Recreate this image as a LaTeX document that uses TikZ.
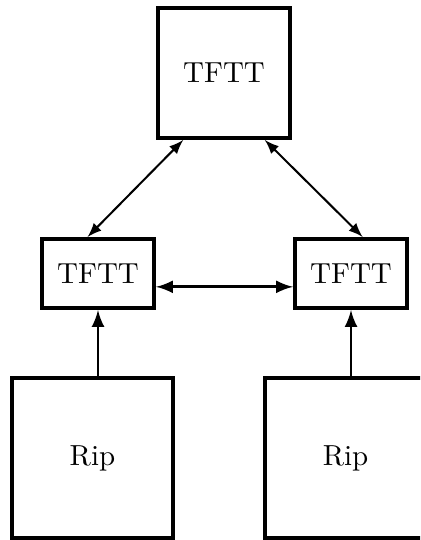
\documentclass[tikz,border=0pt]{standalone}
\usepackage{tikz}
\usetikzlibrary{arrows,positioning,calc,shadows}

\tikzset{
  tftt/.style={draw,line width=1.4pt,fill=white,
    drop shadow={shadow xshift=0.8pt,shadow yshift=-0.8pt,fill=black,opacity=1}},
  ripbox/.style={draw,line width=1.2pt,fill=white},
  link/.style={<->,>=latex,line width=0.7pt},
  feed/.style={->,>=latex,line width=1pt}
}

\begin{document}
\begin{tikzpicture}[x=0.345pt,y=-0.345pt]
  \useasboundingbox (0,0) rectangle (420,540);
  \clip (0,0) rectangle (420,540);

  % Top: master TFTT
  \node[tftt,minimum width=45.5pt,minimum height=44.8pt] (top) at (224,73) {TFTT};

  % Middle: two TFTT
  \node[tftt,minimum width=38.6pt,minimum height=23.8pt] (tftl) at (98,273.5) {TFTT};
  \node[tftt,minimum width=38.6pt,minimum height=23.8pt] (tftr) at (351,273.5) {TFTT};

  % Bottom: Rip boxes
  \node[ripbox,minimum width=55.5pt,minimum height=55.2pt] (ripl) at (92.5,458) {Rip};
  \node[ripbox,minimum width=55.5pt,minimum height=55.2pt] (ripr) at (345.5,458) {Rip};

  % Arrows
  \draw[link] ($(top.south west)!0.2!(top.south east)$) -- ($(tftl.north west)!0.41!(tftl.north east)$);
  \draw[link] ($(top.south west)!0.8!(top.south east)$) -- ($(tftr.north west)!0.6!(tftr.north east)$);
  \draw[link,line width=1pt] ([yshift=-4.6pt]tftl.east) -- ([yshift=-4.6pt]tftr.west);
  \draw[feed] (tftl.south |- ripl.north) -- (tftl.south);
  \draw[feed] (tftr.south |- ripr.north) -- (tftr.south);
\end{tikzpicture}
\end{document}
